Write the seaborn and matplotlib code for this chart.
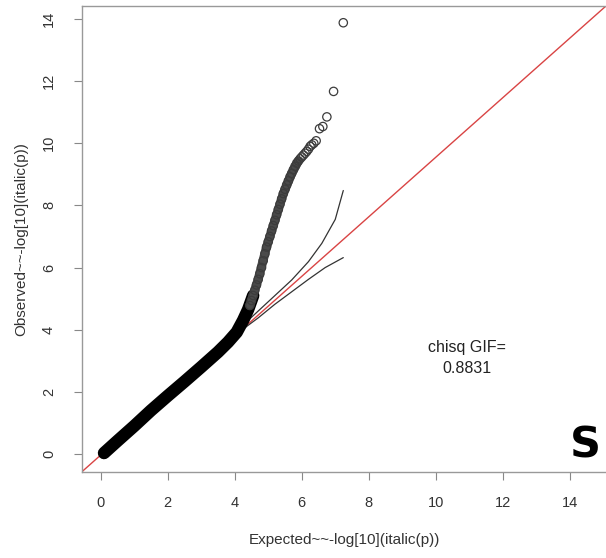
import matplotlib
matplotlib.use('Agg')
import matplotlib.pyplot as plt
import seaborn as sns
import pandas as pd

# dense part of the QQ curve (expected, observed)
band_x = [0.1, 0.5, 1.0, 1.5, 2.0, 2.5, 3.0, 3.5, 3.8, 4.06, 4.25, 4.4, 4.55]
band_y = [0.03, 0.42, 0.9, 1.4, 1.87, 2.33, 2.8, 3.28, 3.6, 3.92, 4.3, 4.65, 5.1]

# upper tail points
pts_x = [4.45, 4.5, 4.55, 4.6, 4.65, 4.7, 4.75, 4.8, 4.85, 4.9, 4.95, 5.0, 5.05,
         5.1, 5.15, 5.2, 5.25, 5.3, 5.35, 5.4, 5.45, 5.5, 5.55, 5.6, 5.65, 5.7,
         5.75, 5.8, 5.85, 5.9, 5.95, 6.0, 6.05, 6.1, 6.15, 6.2, 6.25, 6.3, 6.36,
         6.43, 6.53, 6.63, 6.75, 6.95, 7.24]
pts_y = [4.78, 4.94, 5.1, 5.27, 5.44, 5.62, 5.8, 6.0, 6.22, 6.44, 6.66, 6.83, 7.0,
         7.18, 7.35, 7.52, 7.7, 7.87, 8.04, 8.21, 8.38, 8.52, 8.66, 8.79, 8.92, 9.03,
         9.15, 9.26, 9.36, 9.43, 9.5, 9.56, 9.62, 9.68, 9.74, 9.81, 9.9, 9.95, 10.0,
         10.08, 10.47, 10.54, 10.85, 11.67, 13.88]

# darker core of the tail where circles pile up
core_x = [4.45, 4.7, 4.95, 5.2, 5.45, 5.7, 5.9]
core_y = [4.78, 5.62, 6.66, 7.52, 8.38, 9.03, 9.43]

# confidence band
ci_up_x = [3.9, 4.3, 4.7, 5.2, 5.7, 6.2, 6.6, 7.0, 7.24]
ci_up_y = [3.76, 4.2, 4.6, 5.1, 5.6, 6.19, 6.78, 7.55, 8.48]
ci_lo_x = [3.9, 4.2, 4.7, 5.2, 5.7, 6.2, 6.7, 7.24]
ci_lo_y = [3.7, 3.98, 4.38, 4.82, 5.22, 5.62, 6.0, 6.32]

ticks = [0, 2, 4, 6, 8, 10, 12, 14]
gif_value = 0.8831
panel = 'S'

sns.set_style('white')
plt.rcParams['font.family'] = ['Liberation Sans', 'DejaVu Sans']

fig = plt.figure(figsize=(6.06, 5.58), dpi=100)
ax = fig.add_axes([0.1353, 0.1547, 0.8647, 0.8346])

ax.plot([0, 1], [0, 1], transform=ax.transAxes, color='#d94444', lw=1.0, zorder=1)

sns.lineplot(x=ci_up_x, y=ci_up_y, ax=ax, color='#333333', lw=0.9, sort=False, estimator=None)
sns.lineplot(x=ci_lo_x, y=ci_lo_y, ax=ax, color='#333333', lw=0.9, sort=False, estimator=None)

band = pd.DataFrame({'x': band_x, 'y': band_y})
sns.lineplot(data=band, x='x', y='y', ax=ax, color='black', lw=9,
             solid_capstyle='round', sort=False, estimator=None, zorder=3)
sns.lineplot(x=core_x, y=core_y, ax=ax, color='#4a4a4a', lw=6.5,
             solid_capstyle='round', sort=False, estimator=None, zorder=3)
sns.scatterplot(x=pts_x, y=pts_y, ax=ax, marker='o', s=36, facecolor='none',
                edgecolor='#3c3c3c', linewidth=0.9, zorder=4)

ax.text(10.93, 3.44, 'chisq GIF=', ha='center', va='center', fontsize=11.5, color='#222222')
ax.text(10.93, 2.74, f'{gif_value}', ha='center', va='center', fontsize=11.5, color='#222222')
ax.text(0.99, 0.03, panel, transform=ax.transAxes, ha='right', va='baseline',
        fontsize=31, fontweight='bold', family='DejaVu Sans', color='black')

ax.set_xlim(-0.558, 15.08)
ax.set_ylim(-0.57, 14.42)
ax.set_xticks(ticks)
ax.set_yticks(ticks)
for lab in ax.get_yticklabels():
    lab.set_rotation(90)
    lab.set_va('center')

ax.tick_params(direction='out', length=5.8, width=0.8, color='#888888',
               labelsize=10.5, labelcolor='#333333', bottom=True, left=True)
ax.tick_params(axis='x', pad=12)
ax.tick_params(axis='y', pad=13)

ax.set_xlabel('Expected~~-log[10](italic(p))', fontsize=11, color='#333333', labelpad=16)
ax.set_ylabel('Observed~~-log[10](italic(p))', fontsize=11, color='#333333', labelpad=10)

for side in ['left', 'bottom', 'top']:
    ax.spines[side].set_color('#999999')
    ax.spines[side].set_linewidth(1.0)
ax.spines['right'].set_visible(False)

fig.savefig('out.png', dpi=100)
